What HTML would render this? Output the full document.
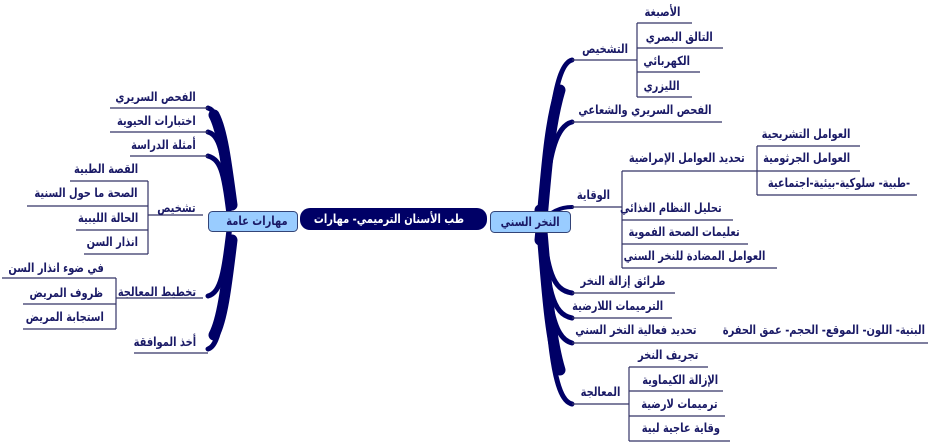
<!DOCTYPE html>
<html><head><meta charset="utf-8"><style>
body{margin:0;width:931px;height:444px;background:#fff;position:relative;overflow:hidden}
.t{position:absolute;font:bold 12.5px "DejaVu Sans","Liberation Sans",sans-serif;color:#1a1a66;direction:rtl;white-space:nowrap;line-height:14px;transform:scaleX(0.79);transform-origin:right center}
svg{position:absolute;left:0;top:0}
</style></head><body>
<svg width="931" height="444">
<g fill="none" stroke="#000066" stroke-linecap="round">
<path d="M540 240 C546 180 548 130 560 90" stroke-width="11"/>
<path d="M540 210 C546 270 548 330 560 370" stroke-width="11"/>
<path d="M542 225 C548 150 552 65 572 60" stroke-width="5"/>
<path d="M542 225 C548 170 552 127 572 122" stroke-width="5"/>
<path d="M542 222 C550 212 560 207 572 207" stroke-width="4"/>
<path d="M542 222 C548 270 552 290 572 293" stroke-width="5"/>
<path d="M542 222 C548 290 552 314 572 318" stroke-width="5"/>
<path d="M542 222 C548 300 552 338 572 343" stroke-width="5"/>
<path d="M542 222 C548 330 552 400 572 404" stroke-width="5"/>
<path d="M232 205 C226 160 222 130 214 115" stroke-width="11"/>
<path d="M232 240 C226 290 222 320 214 335" stroke-width="11"/>
<path d="M230 222 C224 150 222 112 208 108" stroke-width="5"/>
<path d="M230 222 C224 160 222 136 208 132" stroke-width="5"/>
<path d="M230 222 C224 175 222 160 208 156" stroke-width="5"/>
<path d="M230 222 C224 270 222 292 208 296" stroke-width="5"/>
<path d="M230 222 C224 300 222 345 208 349" stroke-width="5"/>
</g>
<g stroke="#333366" stroke-width="1.2" fill="none">
<line x1="572" y1="60" x2="637" y2="60"/><line x1="637" y1="23" x2="637" y2="97"/>
<line x1="637" y1="23" x2="692" y2="23"/><line x1="637" y1="48" x2="723" y2="48"/>
<line x1="637" y1="72" x2="700" y2="72"/><line x1="637" y1="97" x2="692" y2="97"/>
<line x1="572" y1="122" x2="722" y2="122"/>
<line x1="572" y1="207" x2="622" y2="207"/><line x1="622" y1="171" x2="622" y2="268"/>
<line x1="622" y1="171" x2="757" y2="171"/><line x1="757" y1="146" x2="757" y2="195"/>
<line x1="757" y1="146" x2="860" y2="146"/><line x1="757" y1="171" x2="860" y2="171"/>
<line x1="757" y1="195" x2="917" y2="195"/>
<line x1="622" y1="220" x2="733" y2="220"/><line x1="622" y1="244" x2="748" y2="244"/>
<line x1="622" y1="268" x2="777" y2="268"/>
<line x1="572" y1="293" x2="675" y2="293"/><line x1="572" y1="318" x2="672" y2="318"/>
<line x1="572" y1="343" x2="928" y2="343"/>
<line x1="572" y1="404" x2="629" y2="404"/><line x1="629" y1="367" x2="629" y2="441"/>
<line x1="629" y1="367" x2="708" y2="367"/><line x1="629" y1="391" x2="723" y2="391"/>
<line x1="629" y1="416" x2="725" y2="416"/><line x1="629" y1="441" x2="730" y2="441"/>
<line x1="110" y1="108" x2="208" y2="108"/><line x1="110" y1="132" x2="208" y2="132"/>
<line x1="130" y1="156" x2="208" y2="156"/>
<line x1="148" y1="215" x2="203" y2="215"/><line x1="148" y1="181" x2="148" y2="254"/>
<line x1="70" y1="181" x2="148" y2="181"/><line x1="27" y1="206" x2="148" y2="206"/>
<line x1="76" y1="230" x2="148" y2="230"/><line x1="84" y1="254" x2="148" y2="254"/>
<line x1="116" y1="298" x2="203" y2="298"/><line x1="116" y1="278" x2="116" y2="329"/>
<line x1="2" y1="278" x2="116" y2="278"/><line x1="23" y1="304" x2="116" y2="304"/>
<line x1="23" y1="329" x2="116" y2="329"/>
<line x1="134" y1="353" x2="208" y2="353"/>
</g>
<rect x="300" y="208" width="187" height="22" rx="10" fill="#000066"/>
<rect x="208.5" y="211.5" width="89" height="20" rx="4" fill="#99ccff" stroke="#334477"/>
<rect x="490.5" y="211.5" width="80" height="21" rx="4" fill="#99ccff" stroke="#334477"/>
</svg>
<div class="t" style="right:467px;top:212px;color:#fff">طب الأسنان الترميمي- مهارات</div>
<div class="t" style="right:643px;top:214px">مهارات عامة</div>
<div class="t" style="right:371px;top:215px">النخر السني</div>

<div class="t" style="right:303px;top:42px">التشخيص</div>
<div class="t" style="right:251px;top:5px">الأصبغة</div>
<div class="t" style="right:218px;top:30px">التالق البصري</div>
<div class="t" style="right:241px;top:54px">الكهربائي</div>
<div class="t" style="right:251px;top:79px">الليزري</div>
<div class="t" style="right:219px;top:103px">الفحص السريري والشعاعي</div>
<div class="t" style="right:321px;top:188px">الوقاية</div>
<div class="t" style="right:186px;top:151px">تحديد العوامل الإمراضية</div>
<div class="t" style="right:81px;top:127px">العوامل التشريحية</div>
<div class="t" style="right:81px;top:151px">العوامل الجرثومية</div>
<div class="t" style="right:21px;top:176px">-طبية- سلوكية-بيئية-اجتماعية</div>
<div class="t" style="right:209px;top:201px">تحليل النظام الغذائي</div>
<div class="t" style="right:191px;top:225px">تعليمات الصحة الفموية</div>
<div class="t" style="right:166px;top:249px">العوامل المضادة للنخر السني</div>
<div class="t" style="right:266px;top:274px">طرائق إزالة النخر</div>
<div class="t" style="right:268px;top:299px">الترميمات اللارضية</div>
<div class="t" style="right:234px;top:323px">تحديد فعالية التخر السني</div>
<div class="t" style="right:6px;top:323px">البنية- اللون- الموقع- الحجم- عمق الحفرة</div>
<div class="t" style="right:311px;top:385px">المعالجة</div>
<div class="t" style="right:233px;top:348px">تجريف النخر</div>
<div class="t" style="right:213px;top:373px">الإزالة الكيماوية</div>
<div class="t" style="right:213px;top:397px">ترميمات لارضية</div>
<div class="t" style="right:211px;top:421px">وقاية  عاجية لبية</div>

<div class="t" style="right:735px;top:90px">الفحص السريري</div>
<div class="t" style="right:735px;top:114px">اختبارات الحيوية</div>
<div class="t" style="right:735px;top:138px">أمثلة الدراسة</div>
<div class="t" style="right:735px;top:201px">تشخيص</div>
<div class="t" style="right:793px;top:162px">القصة الطبية</div>
<div class="t" style="right:793px;top:186px">الصحة ما حول السنية</div>
<div class="t" style="right:793px;top:211px">الحالة الليبية</div>
<div class="t" style="right:793px;top:235px">انذار السن</div>
<div class="t" style="right:735px;top:285px">تخطيط المعالجة</div>
<div class="t" style="right:827px;top:261px">في ضوء انذار السن</div>
<div class="t" style="right:828px;top:286px">ظروف المريض</div>
<div class="t" style="right:827px;top:310px">استجابة المريض</div>
<div class="t" style="right:735px;top:335px">أخذ الموافقة</div>
</body></html>
